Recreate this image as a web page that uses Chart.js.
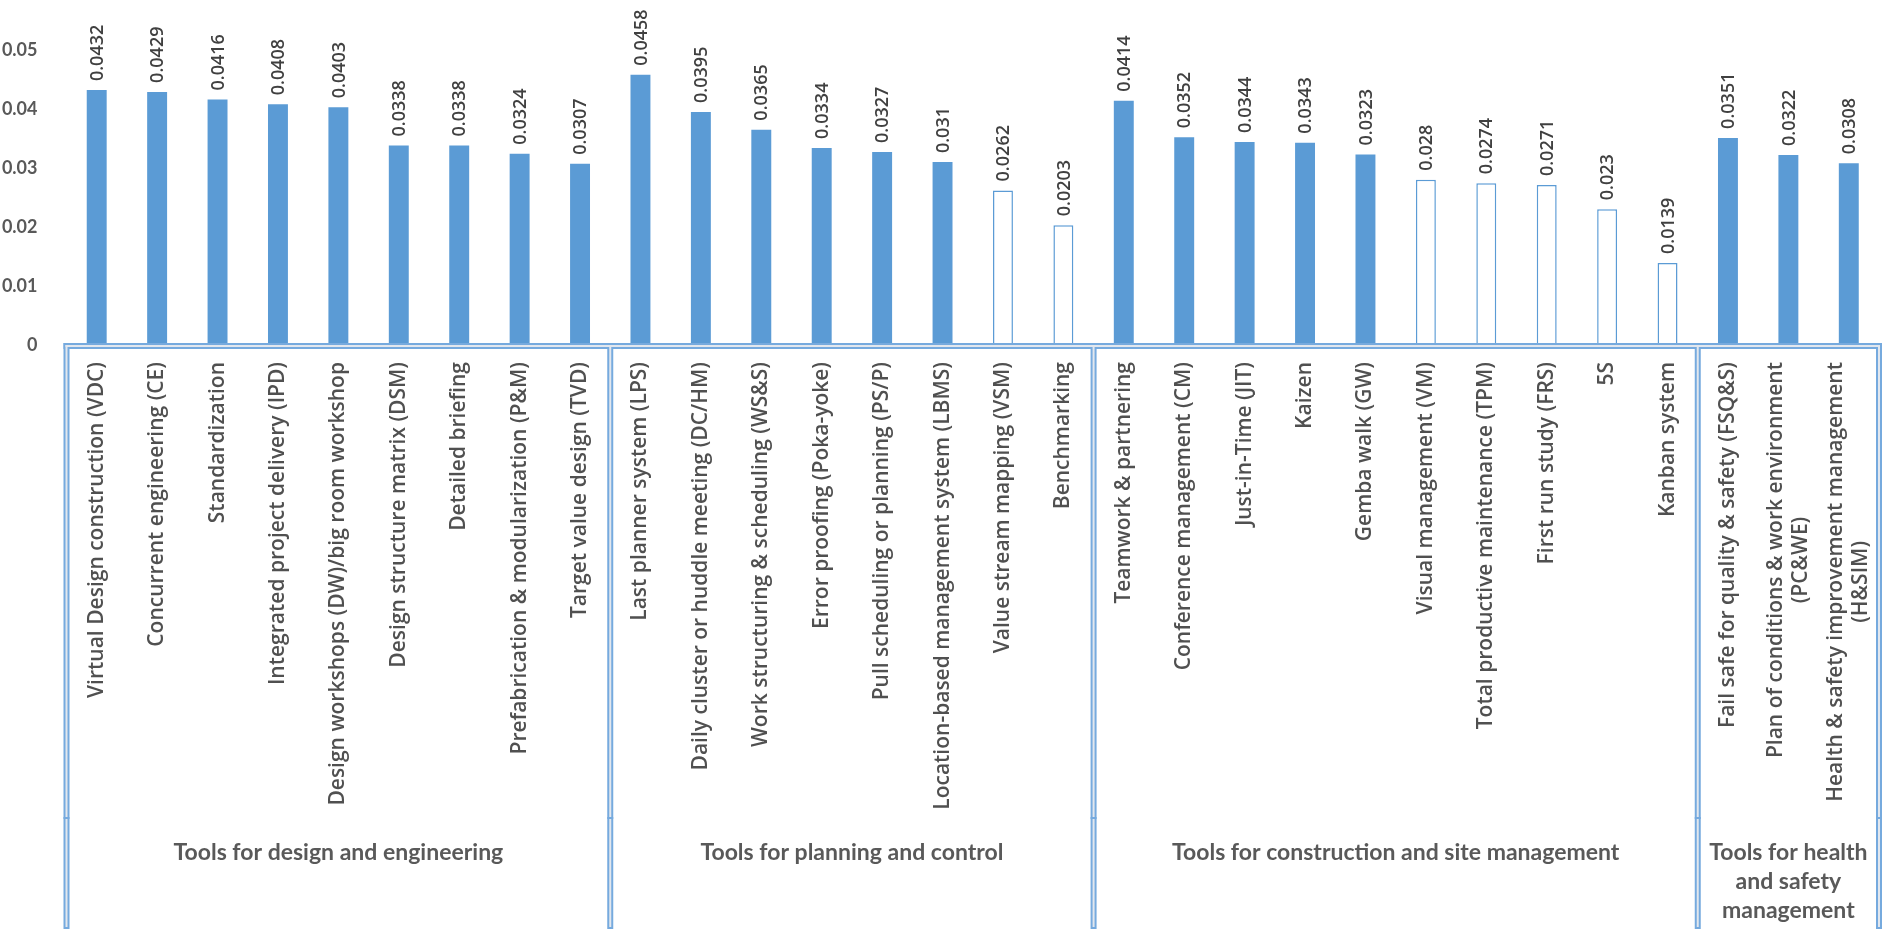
<!DOCTYPE html>
<html>
<head>
<meta charset="utf-8">
<script src="https://cdn.jsdelivr.net/npm/chart.js@4.4.1/dist/chart.umd.min.js"></script>
<style>
    html, body { margin: 0; padding: 0; background: #fff; }
    #wrap { width: 1883px; height: 930px; }
</style>
</head>
<body>
<div id="wrap"><canvas id="myChart"></canvas></div>

<script>
// lean tools, in the order of the four groups
var tools = [
    'Virtual Design construction (VDC)', 'Concurrent engineering (CE)', 'Standardization',
    'Integrated project delivery (IPD)', 'Design workshops (DW)/big room workshop',
    'Design structure matrix (DSM)', 'Detailed briefing', 'Prefabrication & modularization (P&M)',
    'Target value design (TVD)',
    'Last planner system (LPS)', 'Daily cluster or huddle meeting (DC/HM)',
    'Work structuring & scheduling (WS&S)', 'Error proofing (Poka-yoke)',
    'Pull scheduling or planning (PS/P)', 'Location-based management system (LBMS)',
    'Value stream mapping (VSM)', 'Benchmarking',
    'Teamwork & partnering', 'Conference management (CM)', 'Just-in-Time (JIT)', 'Kaizen',
    'Gemba walk (GW)', 'Visual management (VM)', 'Total productive maintenance (TPM)',
    'First run study (FRS)', '5S', 'Kanban system',
    'Fail safe for quality & safety (FSQ&S)',
    ['Plan of conditions & work environment', '(PC&WE)'],
    ['Health & safety improvement management', '(H&SIM)']
];

var weights = [
    0.0432, 0.0429, 0.0416, 0.0408, 0.0403, 0.0338, 0.0338, 0.0324, 0.0307,
    0.0458, 0.0395, 0.0365, 0.0334, 0.0327, 0.031, 0.0262, 0.0203,
    0.0414, 0.0352, 0.0344, 0.0343, 0.0323, 0.028, 0.0274, 0.0271, 0.023, 0.0139,
    0.0351, 0.0322, 0.0308
];

var groupNames = [
    'Tools for design and engineering',
    'Tools for planning and control',
    'Tools for construction and site management',
    ['Tools for health', 'and safety', 'management']
];
var groupSizes = [9, 8, 10, 3];

// weights below this are drawn as hollow bars
var cutoff = 0.03;

var blue = '#5B9BD5';

function strokeSegs(ctx, segs) {
    segs.forEach(function (s) {
        ctx.beginPath();
        ctx.moveTo(s[0], s[1]);
        ctx.lineTo(s[2], s[3]);
        ctx.stroke();
    });
}

// value above every bar, written bottom to top
var valueLabels = {
    id: 'valueLabels',
    afterDatasetsDraw: function (chart) {
        var ctx = chart.ctx;
        chart.getDatasetMeta(0).data.forEach(function (bar, i) {
            ctx.save();
            ctx.translate(bar.x, bar.y - 9);
            ctx.rotate(-Math.PI / 2);
            ctx.font = '600 18px "Open Sans"';
            ctx.fillStyle = '#404040';
            ctx.textAlign = 'left';
            ctx.textBaseline = 'middle';
            ctx.fillText(String(weights[i]), 0, 1);
            ctx.restore();
        });
    }
};

// tool names, group boxes and group titles under the bars
var groupAxis = {
    id: 'groupAxis',
    afterDraw: function (chart) {
        var ctx = chart.ctx;
        var x = chart.scales.x;
        var area = chart.chartArea;
        var step = x.getPixelForValue(1) - x.getPixelForValue(0);
        var top = area.bottom + 1;
        var bottom = chart.height - 4;

        ctx.save();
        ctx.fillStyle = '#505050';
        ctx.font = '600 21px "Open Sans"';
        ctx.textBaseline = 'middle';
        ctx.textAlign = 'center';
        tools.forEach(function (name, i) {
            var lines = [].concat(name);
            var w = Math.max.apply(null, lines.map(function (l) { return ctx.measureText(l).width; }));
            ctx.save();
            ctx.translate(x.getPixelForValue(i), top + 16);
            ctx.rotate(-Math.PI / 2);
            lines.forEach(function (l, j) {
                ctx.fillText(l, -w / 2, (j - (lines.length - 1) / 2) * 25);
            });
            ctx.restore();
        });

        // group edges
        var edges = [x.getPixelForValue(0) - step / 2];
        var n = 0;
        groupSizes.forEach(function (s) {
            n += s;
            edges.push(x.getPixelForValue(n - 1) + step / 2);
        });

        var segs = [[edges[0], top, edges[edges.length - 1], top]];
        edges.forEach(function (e) { segs.push([e, top, e, bottom]); });

        ctx.lineCap = 'square';
        ctx.strokeStyle = '#76aade';
        ctx.lineWidth = 6;
        strokeSegs(ctx, segs);
        ctx.strokeStyle = '#e2e7ee';
        ctx.lineWidth = 2;
        strokeSegs(ctx, segs);

        // small marks on the group dividers
        ctx.lineCap = 'butt';
        ctx.strokeStyle = '#76aade';
        ctx.lineWidth = 2;
        strokeSegs(ctx, edges.map(function (e) { return [e - 3, 818, e + 3, 818]; }));

        ctx.fillStyle = '#595959';
        ctx.font = 'bold 23px Lato';
        ctx.textAlign = 'center';
        ctx.textBaseline = 'middle';
        groupNames.forEach(function (g, i) {
            var cx = (edges[i] + edges[i + 1]) / 2;
            [].concat(g).forEach(function (l, j) {
                ctx.fillText(l, cx, 853 + j * 29);
            });
        });
        ctx.restore();
    }
};

var ctx = document.getElementById('myChart').getContext('2d');
var chart = new Chart(ctx, {
    type: 'bar',
    data: {
        labels: tools,
        datasets: [{
            data: weights,
            barPercentage: 0.33,
            categoryPercentage: 1,
            backgroundColor: function (c) { return c.raw < cutoff ? '#ffffff' : blue; },
            borderColor: blue,
            borderWidth: function (c) { return c.raw < cutoff ? 1.5 : 0; }
        }]
    },
    options: {
        responsive: true,
        maintainAspectRatio: false,
        animation: false,
        layout: { padding: { top: 50, right: 4, bottom: 585, left: 0 } },
        plugins: {
            legend: { display: false },
            tooltip: { enabled: false }
        },
        scales: {
            x: { display: false },
            y: {
                min: 0,
                max: 0.05,
                grid: { display: false },
                border: { display: false },
                ticks: {
                    stepSize: 0.01,
                    padding: 21,
                    color: '#595959',
                    font: { family: 'Lato', size: 18, weight: 'bold' },
                    callback: function (v) { return String(+v.toFixed(2)); }
                },
                afterFit: function (scale) { scale.width = 66.5; }
            }
        }
    },
    plugins: [valueLabels, groupAxis]
});
</script>
</body>
</html>
